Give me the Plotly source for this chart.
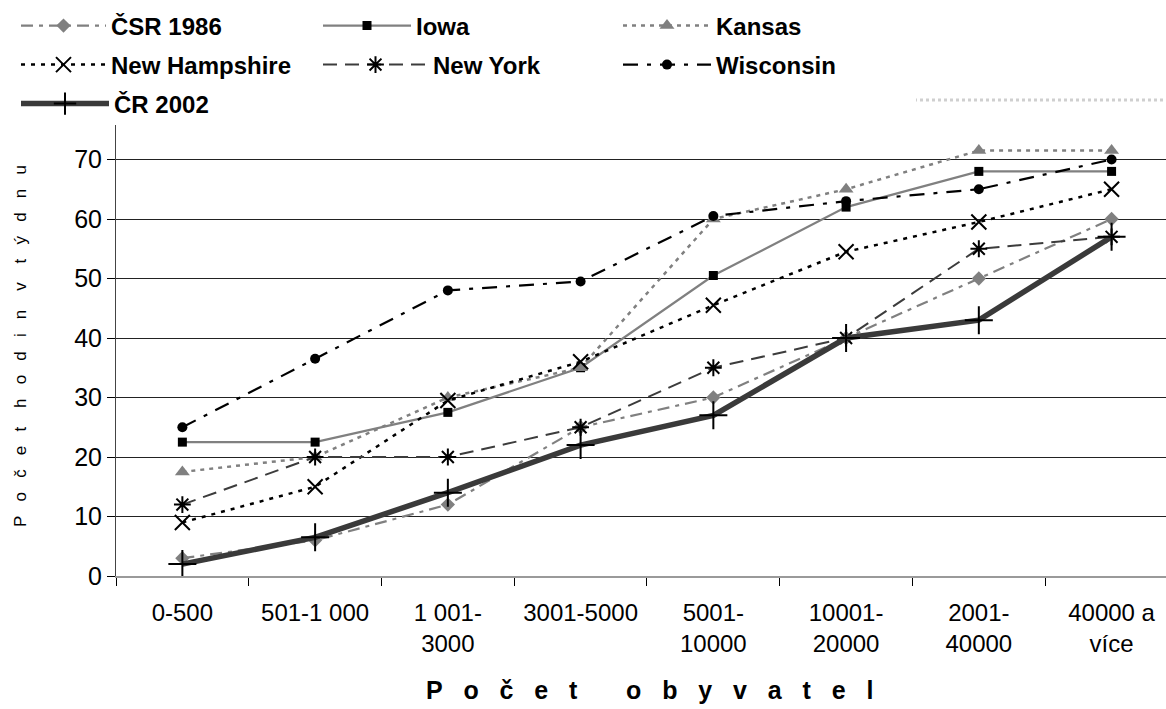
import plotly.graph_objects as go

categories = ["0-500", "501-1 000", "1 001-<br>3000", "3001-5000", "5001-<br>10000",
              "10001-<br>20000", "2001-<br>40000", "40000 a<br>více"]

csr_1986 = [3, 6, 12, 25, 30, 40, 50, 60]
iowa = [22.5, 22.5, 27.5, 35, 50.5, 62, 68, 68]
kansas = [17.5, 20, 30, 35, 60, 65, 71.5, 71.5]
new_hampshire = [9, 15, 29.5, 36, 45.5, 54.5, 59.5, 65]
new_york = [12, 20, 20, 25, 35, 40, 55, 57]
wisconsin = [25, 36.5, 48, 49.5, 60.5, 63, 65, 70]
cr_2002 = [2, 6.5, 14, 22, 27, 40, 43, 57]

y_ticks = [0, 10, 20, 30, 40, 50, 60, 70]

W, H = 1166, 709
L, R, T, B = 116, 0, 100, 133
PW = W - L - R
PH = H - T - B


def px_x(px):
    return (px - L) / PW


def px_y(py):
    return (H - B - py) / PH


FONT = "Arial, 'Liberation Sans', sans-serif"
GRAY = "#808080"

series = [
    dict(name="ČSR 1986", y=csr_1986, line=dict(color=GRAY, width=2.2, dash="12px,6px,4px,6px"),
         marker=dict(symbol="diamond", size=11, color=GRAY), leg=(16, 26, 85)),
    dict(name="Iowa", y=iowa, line=dict(color=GRAY, width=2.2, dash="solid"),
         marker=dict(symbol="square", size=9, color="black"), leg=(318, 26, 88)),
    dict(name="Kansas", y=kansas, line=dict(color=GRAY, width=2.5, dash="4px,5px"),
         marker=dict(symbol="triangle-up", size=13, color=GRAY), leg=(618, 26, 88)),
    dict(name="New Hampshire", y=new_hampshire, line=dict(color="black", width=2.5, dash="4px,6px"),
         marker=dict(symbol="x-thin-open", size=15, color="black", line=dict(width=2, color="black")),
         leg=(16, 65, 85)),
    dict(name="New York", y=new_york, line=dict(color="#3c3c3c", width=2, dash="14px,8px"),
         marker=dict(symbol="asterisk-open", size=14, color="black", line=dict(width=2, color="black")),
         leg=(318, 65, 105)),
    dict(name="Wisconsin", y=wisconsin, line=dict(color="black", width=2.2, dash="15px,9px,4px,9px"),
         marker=dict(symbol="circle", size=10, color="black"), leg=(618, 65, 88)),
    dict(name="ČR 2002", y=cr_2002, line=dict(color="#3a3a3a", width=5.5, dash="solid"),
         marker=dict(symbol="cross-thin-open", size=20, color="black", line=dict(width=2, color="black")),
         leg=(16, 104, 88)),
]

fig = go.Figure()
layout_legends = {}
for i, s in enumerate(series):
    key = "legend" if i == 0 else f"legend{i + 1}"
    fig.add_trace(go.Scatter(
        x=categories, y=s["y"], name=s["name"], mode="lines+markers",
        line=s["line"], marker=s["marker"], legend=key,
    ))
    lx, ly, iw = s["leg"]
    layout_legends[key] = dict(
        x=px_x(lx), y=px_y(ly), xanchor="left", yanchor="middle",
        orientation="h", bgcolor="rgba(0,0,0,0)", borderwidth=0,
        itemwidth=iw, font=dict(family=FONT, size=24, color="black", weight="bold"),
    )

fig.update_layout(
    width=W, height=H,
    margin=dict(l=L, r=R, t=T, b=B, pad=0),
    paper_bgcolor="white", plot_bgcolor="white",
    font=dict(family=FONT, color="black"),
    showlegend=True,
    **layout_legends,
)

fig.update_xaxes(
    type="category", range=[-0.5, 7.41],
    tickson="boundaries", ticks="outside", ticklen=8, tickwidth=1, tickcolor="black",
    showline=True, linecolor="#9a9a9a", linewidth=2,
    showgrid=False, zeroline=False,
    tickfont=dict(family=FONT, size=24, color="black"),
    ticklabelstandoff=14,
)

fig.update_yaxes(
    range=[0, 80], tickvals=y_ticks, ticktext=[str(v) for v in y_ticks],
    ticks="outside", ticklen=8, tickwidth=1, tickcolor="black",
    showline=True, linecolor="#444444", linewidth=1,
    showgrid=True, gridcolor="#222222", gridwidth=1, zeroline=False,
    tickfont=dict(family=FONT, size=25, color="black"),
)

NB = "\u00a0"
ytitle = (NB * 4).join((NB * 3).join(w) for w in ["Počet", "hodin", "v", "týdnu"])
xtitle = (NB * 7).join((NB * 3).join(w) for w in ["Počet", "obyvatel"])

fig.add_shape(type="line", xref="paper", yref="paper", x0=0, x1=1, y0=1, y1=1,
              line=dict(color="#cfcfcf", width=3, dash="dot"), layer="above")
fig.add_shape(type="rect", xref="paper", yref="paper", x0=px_x(0), x1=px_x(916),
              y0=px_y(125), y1=px_y(0), fillcolor="white", line=dict(width=0), layer="above")

fig.add_annotation(text=ytitle, xref="paper", yref="paper", x=px_x(20), y=px_y(346),
                   xanchor="center", yanchor="middle", textangle=-90, showarrow=False,
                   font=dict(family=FONT, size=17, color="black"))
fig.add_annotation(text=xtitle, xref="paper", yref="paper", x=px_x(649), y=px_y(690),
                   xanchor="center", yanchor="middle", showarrow=False,
                   font=dict(family=FONT, size=25, color="black", weight="bold"))

fig.write_html("out.html")
